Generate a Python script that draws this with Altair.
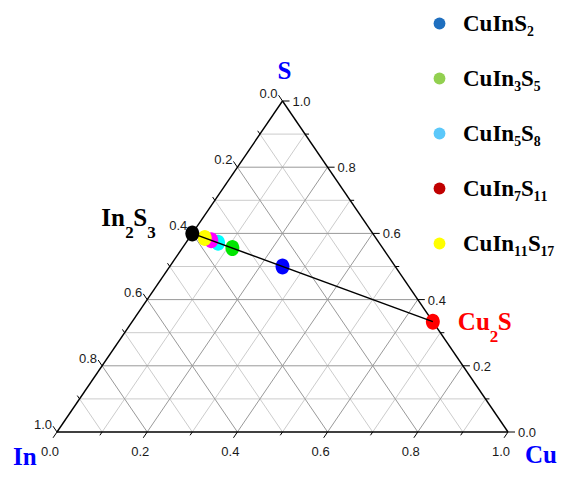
import math
import altair as alt
import pandas as pd

# ---------------- data ----------------
names = ["CuInS2", "CuIn3S5", "CuIn5S8", "CuIn7S11", "CuIn11S17", "In2S3", "Cu2S"]
cu_atoms = [1, 1, 1, 1, 1, 0, 2]
in_atoms = [1, 3, 5, 7, 11, 2, 0]
s_atoms = [2, 5, 8, 11, 17, 3, 1]
point_colors = ["#0000FF", "#00E600", "#00FFFF", "#FF00FF", "#FFFF00", "#000000", "#FF0000"]

legend_labels = ["CuInS₂", "CuIn₃S₅", "CuIn₅S₈", "CuIn₇S₁₁", "CuIn₁₁S₁₇"]
legend_colors = ["#1F6FBF", "#92D050", "#5BC8FA", "#C00000", "#FFFF00"]

grid_steps = [0.1, 0.2, 0.3, 0.4, 0.5, 0.6, 0.7, 0.8, 0.9]
tick_steps = [0.0, 0.1, 0.2, 0.3, 0.4, 0.5, 0.6, 0.7, 0.8, 0.9, 1.0]
label_steps = [0.0, 0.2, 0.4, 0.6, 0.8, 1.0]

corner_titles = ["In", "Cu", "S"]
in2s3_parts = ["In", "2", "S", "3"]
cu2s_parts = ["Cu", "2", "S"]

W, H = 451, 331

# ---------------- derived tables ----------------
tot = [c + i + s for c, i, s in zip(cu_atoms, in_atoms, s_atoms)]
pts = pd.DataFrame({
    "name": names,
    "x": [(c + s / 2) / t for c, s, t in zip(cu_atoms, s_atoms, tot)],
    "y": [s / t for s, t in zip(s_atoms, tot)],
})
leg = pts.iloc[:5].copy()
leg["label"] = legend_labels

grid = []
for k in grid_steps:
    major = round(k * 10) % 2 == 0
    grid.append(dict(x=k / 2, y=k, x2=1 - k / 2, y2=k, major=major))
    grid.append(dict(x=k, y=0, x2=k + (1 - k) / 2, y2=1 - k, major=major))
    grid.append(dict(x=1 - k, y=0, x2=(1 - k) / 2, y2=1 - k, major=major))
grid = pd.DataFrame(grid)

edges = pd.DataFrame({"x": [0, 1, 0.5], "y": [0, 0, 1], "x2": [1, 0.5, 0], "y2": [0, 1, 0]})

n = math.hypot(0.5 * W, H)
ux, uy = 0.5 * W / n, H / n
ticks = []
for k in tick_steps:
    L = 7 if round(k * 10) % 2 == 0 else 4
    # bottom (Cu)
    ticks.append(dict(x=k, y=0, x2=k - ux * L / W, y2=-uy * L / H))
    # right (S)
    ticks.append(dict(x=1 - k / 2, y=k, x2=1 - k / 2 + L / W, y2=k))
    # left (In)
    ticks.append(dict(x=(1 - k) / 2, y=1 - k, x2=(1 - k) / 2 - ux * L / W, y2=1 - k + uy * L / H))
ticks = pd.DataFrame(ticks)

bot_lab = pd.DataFrame({"x": label_steps, "y": [0] * 6, "t": [f"{k:.1f}" for k in label_steps]})
right_lab = pd.DataFrame({"x": [1 - k / 2 for k in label_steps], "y": label_steps,
                          "t": [f"{k:.1f}" for k in label_steps]})
left_lab = pd.DataFrame({"x": [(1 - k) / 2 for k in label_steps], "y": [1 - k for k in label_steps],
                         "t": [f"{k:.1f}" for k in label_steps]})

corners = pd.DataFrame({"t": corner_titles, "x": [0, 1, 0.5], "y": [0, 0, 1]})

xs = alt.Scale(domain=[0, 1], nice=False, zero=False)
ys = alt.Scale(domain=[0, 1], nice=False, zero=False)
X = alt.X("x:Q", scale=xs, axis=None)
Y = alt.Y("y:Q", scale=ys, axis=None)


def rules(df, color, width):
    return alt.Chart(df).mark_rule(color=color, strokeWidth=width).encode(
        x=X, y=Y, x2="x2:Q", y2="y2:Q")


grid_minor = rules(grid[~grid.major], "#cccccc", 1)
grid_major = rules(grid[grid.major], "#999999", 1)
edge_layer = rules(edges, "black", 1.4)
tick_layer = rules(ticks, "black", 1)


def tick_text(df, align, dx, dy):
    return alt.Chart(df).mark_text(align=align, baseline="middle", dx=dx, dy=dy,
                                   font="Liberation Sans", fontSize=13, color="#1a1a1a").encode(
        x=X, y=Y, text="t:N")


bottom_text = tick_text(bot_lab, "center", -7, 20)
right_text = tick_text(right_lab, "left", 10, 1)
left_text = tick_text(left_lab, "right", -5, -7)


def corner(idx, align, dx, dy):
    return alt.Chart(corners.iloc[[idx]]).mark_text(
        align=align, baseline="alphabetic", dx=dx, dy=dy, font="Liberation Serif",
        fontWeight="bold", fontSize=25, color="#0000FF").encode(x=X, y=Y, text="t:N")


t_in = corner(0, "left", -44, 33)
t_cu = corner(1, "left", 17, 31)
t_s = corner(2, "center", 2, -22)

ellipse = "M-0.87,0A0.87,1,0,1,0,0.87,0A0.87,1,0,1,0,-0.87,0Z"
points = alt.Chart(pts).mark_point(shape=ellipse, filled=True, size=256, opacity=1,
                                   strokeWidth=0).encode(
    x=X, y=Y,
    color=alt.Color("name:N", scale=alt.Scale(domain=names, range=point_colors), legend=None))

tie = alt.Chart(pts[pts.name.isin(["In2S3", "Cu2S"])]).mark_line(
    color="black", strokeWidth=1.5).encode(x=X, y=Y)

legend_layer = alt.Chart(leg).mark_point(filled=True, opacity=0).encode(
    x=X, y=Y,
    color=alt.Color("label:N", sort=legend_labels,
                    scale=alt.Scale(domain=legend_labels, range=legend_colors),
                    legend=alt.Legend(title=None, orient="none", legendX=371, legendY=-89,
                                      symbolType="circle", symbolSize=140, symbolOpacity=1,
                                      symbolStrokeWidth=0, labelFont="Liberation Serif",
                                      labelFontSize=23, labelFontWeight="bold",
                                      labelColor="black", rowPadding=31, labelOffset=12,
                                      padding=0, labelLimit=300)))


def piece(name, text, dx, dy, size, color):
    return alt.Chart(pts[pts.name == name]).mark_text(
        text=text, align="left", baseline="alphabetic", dx=dx, dy=dy, fontSize=size,
        font="Liberation Serif", fontWeight="bold", color=color).encode(x=X, y=Y)


lab_in2s3 = [
    piece("In2S3", in2s3_parts[0], -91, -7, 25, "black"),
    piece("In2S3", in2s3_parts[1], -67, 5, 17, "black"),
    piece("In2S3", in2s3_parts[2], -59, -7, 25, "black"),
    piece("In2S3", in2s3_parts[3], -45, 5, 17, "black"),
]
lab_cu2s = [
    piece("Cu2S", cu2s_parts[0], 25, 8, 25, "#FF0000"),
    piece("Cu2S", cu2s_parts[1], 57, 20, 17, "#FF0000"),
    piece("Cu2S", cu2s_parts[2], 65, 8, 25, "#FF0000"),
]

chart = alt.layer(
    grid_minor, grid_major, edge_layer, tick_layer,
    bottom_text, right_text, left_text, t_in, t_cu, t_s,
    legend_layer, points, tie, *lab_in2s3, *lab_cu2s,
).resolve_scale(color="independent").properties(
    width=W, height=H,
    padding={"left": 49, "top": 93, "right": 56, "bottom": 38},
    autosize=alt.AutoSizeParams(type="none"),
).configure_view(stroke=None)

chart.save("out.html", embed_options={"renderer": "svg", "actions": False})
